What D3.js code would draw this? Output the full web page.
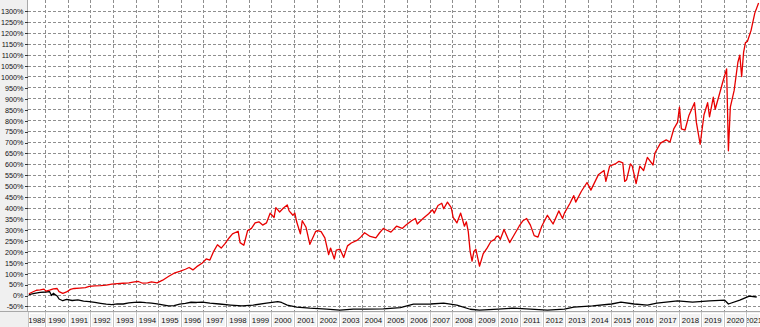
<!DOCTYPE html>
<meta charset="utf-8">
<style type="text/css">
	body { margin: 0; background: #fff; }
	svg { display: block; font-family: "Liberation Sans", Arial, sans-serif; }
	.grid line { stroke: #8f8f8f; stroke-dasharray: 3,2; shape-rendering: crispEdges; }
	.y.axis text { font-size: 7.2px; fill: #111; }
	.y.axis line { stroke: #333; shape-rendering: crispEdges; }
	.y.axis path { display: none; }
	.year text { font-size: 7.8px; fill: #111; }
	.line { fill: none; stroke-linejoin: round; }
</style>
<body>
<div id="chart"></div>
<script src="https://d3js.org/d3.v7.min.js"></script>
<script>

	// red series: cumulative gain in %
	const redSeries = [
		["1989-04", 6], ["1989-06", 14], ["1989-08", 22], ["1989-10", 24], ["1989-12", 27],
		["1990-01", 18], ["1990-03", 22], ["1990-05", 28], ["1990-07", 30], ["1990-08", 16], ["1990-10", 8], ["1990-12", 14],
		["1991-02", 26], ["1991-04", 30], ["1991-07", 32], ["1991-10", 34], ["1991-12", 40],
		["1992-03", 42], ["1992-06", 43], ["1992-09", 45], ["1992-12", 50],
		["1993-03", 52], ["1993-06", 54], ["1993-09", 56], ["1993-12", 60],
		["1994-02", 62], ["1994-04", 55], ["1994-07", 56], ["1994-09", 60], ["1994-12", 56],
		["1995-03", 68], ["1995-06", 85], ["1995-09", 100], ["1995-12", 108],
		["1996-03", 118], ["1996-05", 126], ["1996-07", 115], ["1996-09", 130], ["1996-12", 147],
		["1997-02", 165], ["1997-04", 160], ["1997-06", 200], ["1997-08", 230], ["1997-10", 215], ["1997-12", 235],
		["1998-02", 260], ["1998-04", 280], ["1998-07", 292], ["1998-08", 240], ["1998-10", 228], ["1998-12", 295],
		["1999-02", 305], ["1999-04", 330], ["1999-06", 335], ["1999-08", 320], ["1999-10", 330], ["1999-12", 375],
		["2000-02", 355], ["2000-03", 400], ["2000-05", 380], ["2000-07", 398], ["2000-09", 412], ["2000-10", 385], ["2000-12", 365],
		["2001-01", 375], ["2001-02", 334], ["2001-04", 280], ["2001-05", 340], ["2001-07", 310], ["2001-09", 232], ["2001-12", 290],
		["2002-01", 295], ["2002-03", 290], ["2002-05", 262], ["2002-07", 185], ["2002-08", 215], ["2002-10", 165], ["2002-11", 206],
		["2003-01", 210], ["2003-03", 172], ["2003-05", 225], ["2003-07", 238], ["2003-10", 250], ["2003-12", 265],
		["2004-02", 285], ["2004-05", 268], ["2004-08", 262], ["2004-10", 285], ["2004-12", 305],
		["2005-01", 300], ["2005-04", 288], ["2005-07", 315], ["2005-10", 305], ["2005-12", 320],
		["2006-03", 340], ["2006-05", 350], ["2006-06", 325], ["2006-09", 350], ["2006-12", 372],
		["2007-02", 390], ["2007-03", 375], ["2007-05", 410], ["2007-07", 420], ["2007-08", 395], ["2007-10", 425], ["2007-12", 400],
		["2008-01", 355], ["2008-03", 330], ["2008-05", 375], ["2008-07", 315], ["2008-08", 335], ["2008-09", 290], ["2008-10", 200], ["2008-11", 155], ["2008-12", 200],
		["2009-01", 210], ["2009-03", 132], ["2009-05", 190], ["2009-07", 215], ["2009-09", 245], ["2009-11", 255], ["2009-12", 268],
		["2010-01", 270], ["2010-02", 255], ["2010-04", 300], ["2010-07", 240], ["2010-09", 270], ["2010-12", 315],
		["2011-02", 340], ["2011-04", 350], ["2011-06", 320], ["2011-08", 272], ["2011-10", 265], ["2011-12", 315],
		["2012-03", 365], ["2012-06", 325], ["2012-09", 385], ["2012-11", 350], ["2012-12", 375],
		["2013-03", 420], ["2013-05", 455], ["2013-06", 425], ["2013-09", 475], ["2013-12", 515],
		["2014-02", 480], ["2014-06", 550], ["2014-09", 570], ["2014-10", 520], ["2014-12", 590],
		["2015-03", 600], ["2015-05", 612], ["2015-07", 605], ["2015-08", 520], ["2015-09", 528], ["2015-11", 600], ["2015-12", 590],
		["2016-02", 510], ["2016-04", 590], ["2016-06", 570], ["2016-08", 630], ["2016-11", 595], ["2016-12", 650],
		["2017-03", 695], ["2017-06", 710], ["2017-08", 700], ["2017-10", 760], ["2017-12", 790],
		["2018-01", 860], ["2018-02", 760], ["2018-04", 755], ["2018-06", 820], ["2018-09", 880], ["2018-10", 790], ["2018-12", 690],
		["2019-02", 825], ["2019-04", 880], ["2019-05", 815], ["2019-07", 905], ["2019-08", 850], ["2019-10", 912], ["2019-12", 975],
		["2020-02", 1035], ["2020-03", 660], ["2020-04", 860], ["2020-06", 935], ["2020-08", 1065], ["2020-09", 1098], ["2020-10", 1000], ["2020-11", 1110], ["2020-12", 1155],
		["2021-01", 1160], ["2021-03", 1210], ["2021-05", 1290], ["2021-07", 1336]
	];

	// black series
	const blackSeries = [
		["1989-04", 2], ["1989-07", 8], ["1989-10", 12], ["1990-01", 14], ["1990-03", 16], ["1990-04", -2], ["1990-05", 8],
		["1990-07", -4], ["1990-08", -18], ["1990-10", -26], ["1990-12", -20],
		["1991-03", -25], ["1991-06", -22], ["1991-09", -28], ["1991-12", -30],
		["1992-03", -34], ["1992-06", -38], ["1992-09", -42], ["1992-12", -44],
		["1993-03", -40], ["1993-06", -41], ["1993-09", -36], ["1993-12", -34],
		["1994-03", -32], ["1994-06", -35], ["1994-09", -37], ["1994-12", -40],
		["1995-03", -45], ["1995-06", -50], ["1995-09", -48], ["1995-12", -42],
		["1996-03", -38], ["1996-06", -33], ["1996-09", -34], ["1996-12", -32],
		["1997-04", -37], ["1997-09", -41], ["1998-03", -46], ["1998-09", -50], ["1999-03", -46], ["1999-10", -37],
		["2000-04", -30], ["2000-06", -34], ["2000-09", -46], ["2001-02", -55], ["2001-09", -60], ["2002-06", -64],
		["2003-01", -69], ["2003-08", -64], ["2004-03", -64], ["2004-12", -63], ["2005-09", -58], ["2006-04", -42],
		["2007-01", -41], ["2007-08", -37], ["2008-03", -46], ["2008-10", -65], ["2009-03", -69], ["2010-01", -64],
		["2010-09", -60], ["2011-06", -64], ["2012-03", -69], ["2012-12", -64], ["2013-05", -55], ["2014-03", -50],
		["2015-01", -41], ["2015-06", -32], ["2016-01", -41], ["2016-08", -46], ["2017-01", -37], ["2017-12", -27],
		["2018-08", -32], ["2019-05", -27], ["2020-01", -23], ["2020-03", -41], ["2020-09", -23], ["2021-02", -5], ["2021-06", -9]
	];

	const yTicks = d3.range(-50, 1301, 50);
	const years = d3.range(1989, 2022);
	const xStart = "1989-04-01", xEnd = "2021-08-07";
	const yMin = -73, yMax = 1350;

	const width = 760, height = 327;
	const plotLeft = 28, plotBottom = 311;

	const parseMonth = d3.timeParse("%Y-%m");
	const parseDay = d3.timeParse("%Y-%m-%d");
	const toPoints = s => s.map(([m, v]) => ({ date: d3.timeDay.offset(parseMonth(m), 14), value: v }));

	const x = d3.scaleTime()
		.domain([parseDay(xStart), parseDay(xEnd)])
		.range([plotLeft, width]);

	const y = d3.scaleLinear()
		.domain([yMin, yMax])
		.range([plotBottom, 0]);

	const svg = d3.select("#chart").append("svg")
		.attr("width", width)
		.attr("height", height);

	// left label panel
	svg.append("rect")
		.attr("x", 0).attr("y", 0)
		.attr("width", plotLeft).attr("height", plotBottom)
		.attr("fill", "#f0f0f0");
	svg.append("line")
		.attr("x1", plotLeft - 0.5).attr("x2", plotLeft - 0.5)
		.attr("y1", 0).attr("y2", plotBottom)
		.attr("stroke", "#a8a8a8");

	// grid
	const grid = svg.append("g").attr("class", "grid");
	grid.selectAll(".h").data(yTicks).enter().append("line")
		.attr("x1", plotLeft).attr("x2", width)
		.attr("y1", d => Math.round(y(d)) + 0.5)
		.attr("y2", d => Math.round(y(d)) + 0.5);
	grid.selectAll(".v").data(years.slice(1)).enter().append("line")
		.attr("x1", d => Math.round(x(new Date(d, 0, 1))) + 0.5)
		.attr("x2", d => Math.round(x(new Date(d, 0, 1))) + 0.5)
		.attr("y1", 0).attr("y2", plotBottom);

	// y axis
	svg.append("g")
		.attr("class", "y axis")
		.attr("transform", `translate(${plotLeft - 0.5},0.5)`)
		.call(d3.axisLeft(y).tickValues(yTicks).tickSize(3).tickPadding(1).tickFormat(d => d + "%"));

	// lines
	svg.append("clipPath").attr("id", "plotClip")
		.append("rect").attr("x", plotLeft).attr("y", 0)
		.attr("width", width - plotLeft).attr("height", plotBottom);

	const line = d3.line()
		.x(d => x(d.date))
		.y(d => y(d.value));

	const lines = svg.append("g").attr("clip-path", "url(#plotClip)");
	lines.append("path")
		.attr("class", "line")
		.attr("d", line(toPoints(blackSeries)))
		.attr("stroke", "#000")
		.attr("stroke-width", 1.3);
	lines.append("path")
		.attr("class", "line")
		.attr("d", line(toPoints(redSeries)))
		.attr("stroke", "#e80000")
		.attr("stroke-width", 1.3);

	// bottom year band
	svg.append("rect")
		.attr("x", 0).attr("y", plotBottom)
		.attr("width", width).attr("height", height - plotBottom)
		.attr("fill", "#f0f0f0");
	svg.append("line")
		.attr("x1", 0).attr("x2", width)
		.attr("y1", plotBottom + 0.5).attr("y2", plotBottom + 0.5)
		.attr("stroke", "#a8a8a8");

	const yearG = svg.append("g").attr("class", "year");
	years.forEach((yr, i) => {
		const x0 = Math.max(plotLeft, Math.round(x(new Date(yr, 0, 1))));
		const x1 = Math.min(width, Math.round(x(new Date(yr + 1, 0, 1))));
		const g = yearG.append("g");
		g.append("clipPath").attr("id", "yc" + i)
			.append("rect").attr("x", x0 + 1).attr("y", plotBottom).attr("width", x1 - x0 - 1).attr("height", height - plotBottom);
		g.append("rect")
			.attr("x", x0 + 1.5).attr("y", plotBottom + 2.5)
			.attr("width", x1 - x0 - 2).attr("height", height - plotBottom - 3)
			.attr("fill", "#f3f3f3")
			.attr("stroke", "#fff");
		g.append("line")
			.attr("x1", x0 + 0.5).attr("x2", x0 + 0.5)
			.attr("y1", plotBottom + 1).attr("y2", height)
			.attr("stroke", "#c4c4c4");
		g.append("text")
			.attr("clip-path", `url(#yc${i})`)
			.attr("x", (x0 + x1) / 2 + 0.5)
			.attr("y", 322.5)
			.attr("text-anchor", "middle")
			.text(yr);
	});

</script>
</body>
